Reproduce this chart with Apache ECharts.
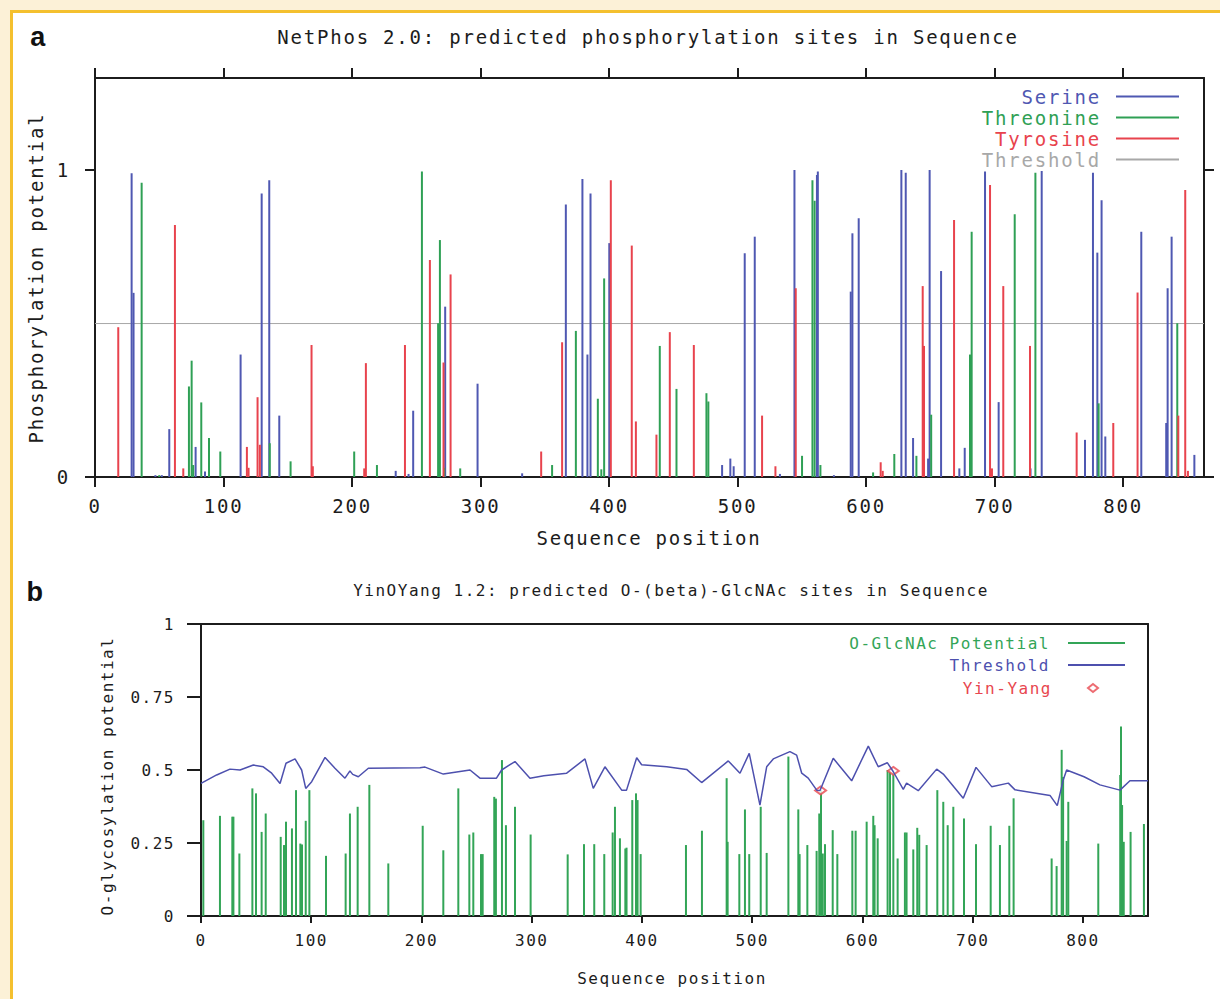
<!DOCTYPE html>
<html><head><meta charset="utf-8">
<script src="https://cdn.jsdelivr.net/npm/echarts@6.0.0/dist/echarts.min.js"></script>
<style>
html,body{margin:0;padding:0;background:#FCF1D7;overflow:hidden;width:1220px;height:999px;}
#frame{position:absolute;left:10px;top:10px;width:1230px;height:1010px;border:3px solid #F4C02F;background:#fff;}
#chart{position:absolute;left:0;top:0;width:1220px;height:999px;}
#chart text{letter-spacing:0.095em;}
</style></head><body><div id="frame"></div><div id="chart"></div>
<script>
// ---- Panel a: NetPhos 2.0 (position, potential) ----
const serineSites = [[28.5,0.99],[30,0.6],[47,0.006],[52,0.006],[57.8,0.156],[78.3,0.098],[85.6,0.018],[113.3,0.399],[129.7,0.924],[135.6,0.967],[143.4,0.2],[234,0.02],[244,0.01],[247.6,0.216],[272.5,0.555],[297.7,0.304],[332.4,0.012],[366.4,0.888],[379.3,0.971],[383.2,0.399],[385.6,0.924],[400.2,0.762],[488,0.039],[494.4,0.06],[497,0.035],[505.6,0.729],[513.4,0.783],[533,0.01],[544.3,1.0],[561.8,0.984],[562.5,0.995],[575,0.006],[588.1,0.604],[589.4,0.794],[594.3,0.843],[627.5,1.0],[630.9,0.991],[636.6,0.127],[648.3,0.06],[649.5,1.0],[658.4,0.671],[672.6,0.028],[676.8,0.095],[692.6,0.995],[703.2,0.244],[728,0.028],[736.7,0.997],[770.4,0.121],[776.6,0.991],[780,0.731],[783.3,0.902],[786.2,0.132],[814.2,0.799],[833.6,0.176],[834.7,0.615],[837.8,0.783],[855.5,0.072]];
const threonineSites = [[36.3,0.959],[50,0.006],[73.1,0.295],[75.2,0.379],[76.4,0.039],[82.7,0.243],[88.7,0.127],[97.5,0.083],[136,0.11],[152.2,0.051],[201.7,0.083],[219.4,0.039],[254.4,0.995],[267,0.501],[268.4,0.772],[271.8,0.03],[284.2,0.028],[355.7,0.039],[374.2,0.476],[391.3,0.255],[394,0.025],[396.2,0.647],[439.5,0.427],[452.5,0.287],[475.8,0.273],[477.3,0.246],[550.2,0.069],[558.3,0.967],[560,0.9],[564.5,0.039],[605.5,0.015],[622,0.075],[639.2,0.069],[650.7,0.203],[680.9,0.399],[682.2,0.799],[715.7,0.856],[731.8,0.991],[781,0.24],[842.2,0.501]];
const tyrosineSites = [[18.1,0.488],[62.2,0.821],[68.7,0.028],[118.2,0.098],[119.5,0.03],[126.5,0.26],[128.3,0.105],[168.5,0.43],[169.5,0.035],[209.5,0.028],[210.8,0.371],[241.2,0.43],[260.6,0.707],[271.2,0.373],[276.7,0.66],[347.2,0.083],[363.5,0.439],[401.4,0.967],[417.7,0.754],[420.9,0.181],[436.9,0.138],[447.3,0.472],[466,0.43],[519.1,0.2],[529.5,0.035],[545.3,0.615],[611.4,0.048],[613,0.02],[644.1,0.622],[645.1,0.427],[668.5,0.837],[696.5,0.951],[698,0.028],[706.8,0.622],[727.6,0.427],[763.9,0.145],[792.4,0.176],[811.3,0.601],[843,0.2],[848.4,0.935],[850.5,0.02]];
const thresholdA = [[0,0.5],[863,0.5]];
const xTicksA = [0,100,200,300,400,500,600,700,800];
const yTicksA = [0,1];

// ---- Panel b: YinOYang 1.2 ----
const glcSites = [[2.1,0.328],[17.2,0.343],[28.4,0.34],[29.4,0.34],[34.8,0.214],[46.6,0.437],[49.9,0.42],[55,0.288],[58.7,0.351],[72.3,0.271],[75.3,0.243],[77.1,0.323],[82.5,0.3],[86.2,0.431],[90.1,0.248],[91.6,0.245],[95,0.326],[98.3,0.431],[113.4,0.206],[131.2,0.214],[135.1,0.351],[142.1,0.374],[152.7,0.449],[169.9,0.18],[201.1,0.309],[219.8,0.225],[233.4,0.437],[243.4,0.279],[247,0.286],[254,0.212],[255.5,0.212],[266,0.408],[267.5,0.402],[273,0.534],[276.6,0.311],[284.8,0.374],[299,0.279],[332.6,0.211],[347.4,0.246],[356.7,0.246],[365.8,0.212],[373.4,0.286],[375.5,0.374],[380,0.266],[384.9,0.231],[386,0.234],[391.2,0.397],[394.6,0.42],[396,0.397],[398.8,0.212],[439.9,0.243],[454.4,0.292],[476.8,0.472],[477.7,0.254],[488.3,0.212],[493.4,0.365],[497.3,0.212],[507.7,0.374],[513.1,0.216],[532.8,0.546],[541.8,0.365],[543,0.212],[550,0.243],[558.4,0.223],[560.8,0.351],[562.4,0.431],[564,0.214],[566,0.246],[573,0.294],[577.2,0.212],[590.8,0.292],[593.8,0.292],[603.8,0.323],[609.8,0.343],[611,0.311],[613.8,0.266],[622.8,0.5],[625,0.494],[628,0.494],[631.9,0.197],[638.5,0.286],[640,0.286],[646.1,0.228],[649.7,0.302],[651.5,0.278],[658.2,0.243],[667.9,0.431],[673.3,0.391],[677.3,0.311],[682.4,0.374],[692.1,0.334],[703,0.246],[716.3,0.309],[724.7,0.243],[733.2,0.309],[737.1,0.403],[771.6,0.197],[776.1,0.171],[780.7,0.569],[782,0.476],[785.2,0.257],[786.7,0.391],[813.9,0.248],[833.8,0.483],[834.5,0.649],[835.5,0.38],[837,0.254],[843.2,0.288],[855.3,0.315]];
const thresholdB = [[0,0.454],[14.2,0.483],[26.3,0.503],[35.4,0.5],[47.5,0.517],[56.5,0.511],[64.1,0.489],[71.7,0.454],[77.1,0.523],[85.3,0.538],[91.3,0.5],[95,0.437],[100.4,0.46],[112.5,0.543],[121.5,0.506],[130.6,0.472],[135.1,0.497],[137.6,0.485],[142.7,0.477],[151.8,0.506],[198.6,0.508],[203.2,0.51],[219.8,0.486],[244,0.5],[253,0.472],[268,0.472],[272.7,0.5],[284.8,0.529],[298.4,0.472],[311,0.48],[331.7,0.489],[348.3,0.538],[355.8,0.437],[366.4,0.511],[381.6,0.431],[386,0.431],[395.2,0.542],[399.7,0.518],[422.4,0.511],[440.5,0.502],[454.1,0.457],[478.3,0.531],[488.9,0.489],[497.3,0.557],[507,0.38],[513.1,0.511],[519.1,0.538],[534.2,0.563],[540.3,0.551],[544.9,0.489],[550.8,0.472],[558.5,0.431],[561.5,0.43],[573.5,0.54],[590.2,0.463],[605.3,0.582],[614.3,0.511],[622.5,0.525],[628,0.494],[637,0.434],[640,0.455],[650.6,0.429],[667.3,0.503],[673.3,0.486],[691.4,0.403],[703,0.509],[717.2,0.443],[732.3,0.455],[738.4,0.432],[770.1,0.413],[776.7,0.378],[782.1,0.466],[785.2,0.5],[801,0.477],[815.4,0.449],[833.6,0.431],[842.6,0.463],[859,0.463]];
const yinYangSites = [[562,0.43],[628,0.497]];
const xTicksB = [0,100,200,300,400,500,600,700,800];
const yTicksB = [0,0.25,0.5,0.75,1];

const MONO = '"DejaVu Sans Mono", monospace';
const INK = '#1c1c1c';
const C_SER = '#4F58B2', C_THR = '#2FA055', C_TYR = '#E8434D', C_THA = '#A8A8A8';
const C_GLC = '#33A557', C_THB = '#4D50AE', C_YY = '#E8474F';

function xAx(grid, max, pos, ticks, fs, tickLen, showLabel) {
  return {
    type: 'value', gridIndex: grid, min: 0, max: max, position: pos,
    axisLine: { show: true, onZero: false, lineStyle: { color: INK, width: 2 } },
    axisTick: { show: !!ticks, inside: false, length: tickLen, lineStyle: { color: INK, width: 2 }, customValues: ticks || [] },
    axisLabel: { show: showLabel, customValues: ticks || [], margin: grid === 0 ? 19 : 16, fontSize: fs, fontFamily: MONO, color: INK },
    splitLine: { show: false }
  };
}
function yAx(grid, max, pos, ticks, fs, tickLen, showLabel) {
  return {
    type: 'value', gridIndex: grid, min: 0, max: max, position: pos,
    axisLine: { show: true, onZero: false, lineStyle: { color: INK, width: 2 } },
    axisTick: { show: !!ticks, inside: false, length: tickLen, lineStyle: { color: INK, width: 2 }, customValues: ticks || [] },
    axisLabel: { show: showLabel, customValues: ticks || [], margin: grid === 0 ? 25 : 26, fontSize: fs, fontFamily: MONO, color: INK },
    splitLine: { show: false }
  };
}
function txt(x, y, s, size, extra) {
  return Object.assign({ type: 'text', x: x, y: y, silent: true,
    style: { text: s, font: size + 'px ' + MONO, fill: INK, align: 'center', verticalAlign: 'middle' } }, extra || {});
}

const chart = echarts.init(document.getElementById('chart'), null, { renderer: 'svg' });
chart.setOption({
  animation: false,
  backgroundColor: 'transparent',
  grid: [
    { left: 95, top: 78, width: 1109, height: 399 },
    { left: 201, top: 624, width: 947, height: 292 }
  ],
  xAxis: [
    xAx(0, 863, 'bottom', xTicksA, 19, 10, true),
    xAx(0, 863, 'top', xTicksA, 19, 10, false),
    xAx(1, 859, 'bottom', xTicksB, 16, 7, true),
    xAx(1, 859, 'top', null, 16, 7, false)
  ],
  yAxis: [
    yAx(0, 1.3, 'left', yTicksA, 19, 10, true),
    yAx(0, 1.3, 'right', yTicksA, 19, 10, false),
    yAx(1, 1, 'left', yTicksB, 16, 14, true),
    yAx(1, 1, 'right', null, 16, 14, false)
  ],
  legend: [
    { orient: 'vertical', align: 'right', right: 41, top: 87, padding: 0, itemGap: 2,
      itemWidth: 63, itemHeight: 2, icon: 'rect',
      textStyle: { fontFamily: MONO, fontSize: 19, padding: [0, 10, 0, 0] },
      data: [
        { name: 'Serine', textStyle: { color: C_SER } },
        { name: 'Threonine', textStyle: { color: C_THR } },
        { name: 'Tyrosine', textStyle: { color: C_TYR } },
        { name: 'Threshold', textStyle: { color: C_THA } }
      ] },
    { orient: 'vertical', align: 'right', right: 95, top: 635, padding: 0, itemGap: 6,
      itemWidth: 57, itemHeight: 2, icon: 'rect',
      textStyle: { fontFamily: MONO, fontSize: 16, padding: [0, 13, 0, 0] },
      formatter: function (n) { return n === 'Threshold (O-GlcNAc)' ? 'Threshold' : n; },
      data: [
        { name: 'O-GlcNAc Potential', textStyle: { color: C_GLC } },
        { name: 'Threshold (O-GlcNAc)', textStyle: { color: C_THB } }
      ] },
    { orient: 'vertical', align: 'right', right: 121, top: 680, padding: 0,
      itemWidth: 10, itemHeight: 8,
      textStyle: { fontFamily: MONO, fontSize: 16, padding: [0, 31, 0, 0] },
      data: [ { name: 'Yin-Yang', icon: 'emptyDiamond', textStyle: { color: C_YY } } ] }
  ],
  graphic: [
    { type: 'text', x: 39, y: 37, silent: true, style: { text: 'a', font: 'bold 27px "Liberation Sans", Arial, sans-serif', fill: '#111', align: 'center', verticalAlign: 'middle' } },
    { type: 'text', x: 36, y: 592, silent: true, style: { text: 'b', font: 'bold 27px "Liberation Sans", Arial, sans-serif', fill: '#111', align: 'center', verticalAlign: 'middle' } },
    txt(648, 37, 'NetPhos 2.0: predicted phosphorylation sites in Sequence', 19),
    txt(649, 538, 'Sequence position', 19),
    txt(36, 278, 'Phosphorylation potential', 19, { rotation: Math.PI / 2 }),
    txt(671, 590, 'YinOYang 1.2: predicted O-(beta)-GlcNAc sites in Sequence', 16),
    txt(672, 978, 'Sequence position', 16),
    txt(107, 776, 'O-glycosylation potential', 16, { rotation: Math.PI / 2 })
  ],
  series: [
    { name: 'Serine', type: 'bar', xAxisIndex: 0, yAxisIndex: 0, data: serineSites, barWidth: 2, barGap: '-100%', itemStyle: { color: C_SER } },
    { name: 'Threonine', type: 'bar', xAxisIndex: 0, yAxisIndex: 0, data: threonineSites, barWidth: 2, barGap: '-100%', itemStyle: { color: C_THR } },
    { name: 'Tyrosine', type: 'bar', xAxisIndex: 0, yAxisIndex: 0, data: tyrosineSites, barWidth: 2, barGap: '-100%', itemStyle: { color: C_TYR } },
    { name: 'Threshold', type: 'line', xAxisIndex: 0, yAxisIndex: 0, data: thresholdA, symbol: 'none', lineStyle: { color: C_THA, width: 1 }, itemStyle: { color: C_THA }, z: 1 },
    { name: 'O-GlcNAc Potential', type: 'bar', xAxisIndex: 2, yAxisIndex: 2, data: glcSites, barWidth: 2, itemStyle: { color: C_GLC } },
    { name: 'Threshold (O-GlcNAc)', type: 'line', xAxisIndex: 2, yAxisIndex: 2, data: thresholdB, symbol: 'none', lineStyle: { color: C_THB, width: 1.5 }, itemStyle: { color: C_THB } },
    { name: 'Yin-Yang', type: 'scatter', xAxisIndex: 2, yAxisIndex: 2, data: yinYangSites, symbol: 'emptyDiamond', symbolSize: [11, 8], itemStyle: { color: C_YY, borderWidth: 1.5 } }
  ]
});
</script></body></html>
